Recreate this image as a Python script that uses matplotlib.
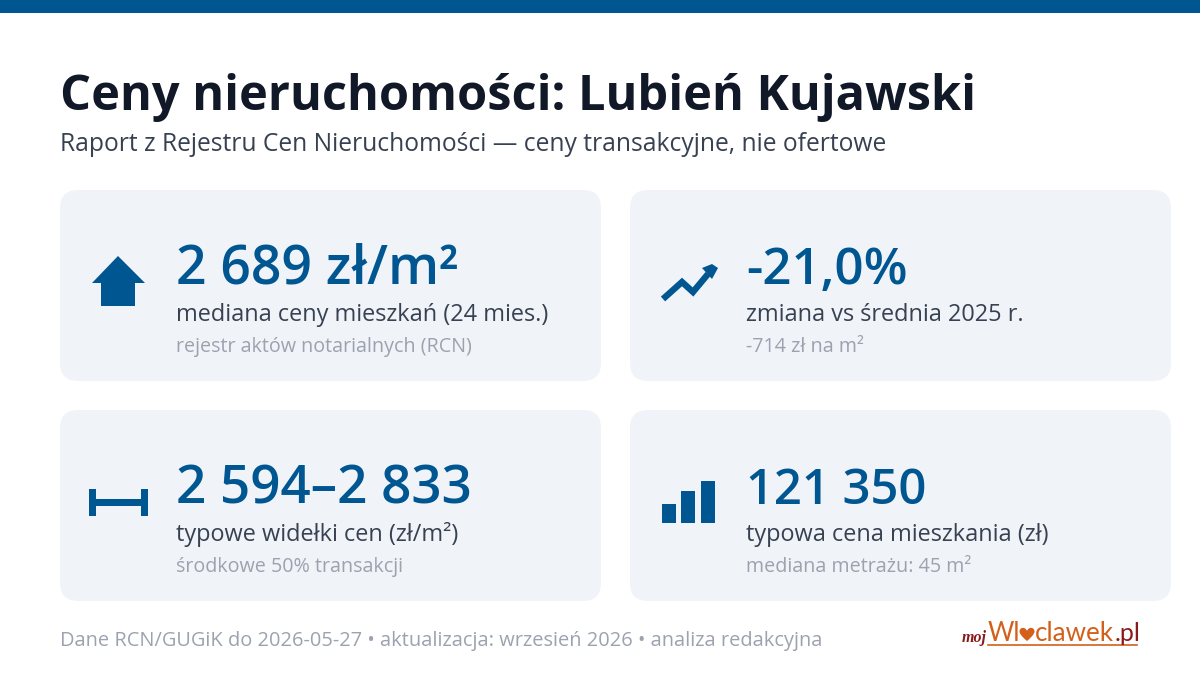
import matplotlib
matplotlib.use('Agg')
import matplotlib.pyplot as plt
from matplotlib.patches import FancyBboxPatch, PathPatch, Polygon, Rectangle
from matplotlib.path import Path

plt.rcParams['font.family'] = ['Open Sans', 'DejaVu Sans']

BLUE = '#005691'
DARK = '#111827'
MID = '#374151'
GREY = '#9CA3AF'
CARD = '#F0F4F9'
ORANGE = '#D2601A'
MAROON = '#8B1A1A'

title = 'Ceny nieruchomości: Lubień Kujawski'
subtitle = 'Raport z Rejestru Cen Nieruchomości — ceny transakcyjne, nie ofertowe'
footer = 'Dane RCN/GUGiK do 2026-05-27 • aktualizacja: wrzesień 2026 • analiza redakcyjna'

values = ['2 689 zł/m²', '-21,0%', '2 594–2 833', '121 350']
labels = ['mediana ceny mieszkań (24 mies.)', 'zmiana vs średnia 2025 r.',
          'typowe widełki cen (zł/m²)', 'typowa cena mieszkania (zł)']
notes = ['rejestr aktów notarialnych (RCN)', '-714 zł na m²',
         'środkowe 50% transakcji', 'mediana metrażu: 45 m²']

# card left/top corners, in pixels
card_x = [60, 630, 60, 630]
card_y = [190, 190, 410, 410]
text_x = [176, 746, 176, 746]
value_px = [53.5, 51, 53, 49]  # the original font has narrower digits in places


def px(size):
    return size * 0.72


fig = plt.figure(figsize=(12, 6.75), dpi=100, facecolor='white')
ax = fig.add_axes([0, 0, 1, 1])
ax.set_xlim(0, 1200)
ax.set_ylim(675, 0)
ax.axis('off')

ax.add_patch(Rectangle((0, 0), 1200, 13, color=BLUE, lw=0))

ax.text(60, 110, title, fontsize=px(48.7), fontweight='bold', color=DARK, va='baseline')
ax.text(60, 151, subtitle, fontsize=px(24.6), color=MID, va='baseline')

for i in range(4):
    ax.add_patch(FancyBboxPatch((card_x[i] + 18, card_y[i] + 18), 541 - 36, 191 - 36,
                                boxstyle='round,pad=18,rounding_size=18',
                                fc=CARD, ec='none'))
    ax.text(text_x[i], card_y[i] + 94, values[i], fontsize=px(value_px[i]), fontweight='semibold',
            color=BLUE, va='baseline')
    ax.text(text_x[i], card_y[i] + 131, labels[i], fontsize=px(23.45), color=MID, va='baseline')
    ax.text(text_x[i], card_y[i] + 162, notes[i], fontsize=px(19.8), color=GREY, va='baseline')

# house
ax.add_patch(Polygon([(118, 256), (145, 283), (135, 283), (135, 306), (101, 306),
                      (101, 283), (92, 283)], fc=BLUE, ec='none'))

# trend arrow
ax.plot([663, 682, 693, 708], [299, 282, 292, 274], color=BLUE, lw=4.6,
        solid_joinstyle='miter', solid_capstyle='butt')
ax.add_patch(Polygon([(702, 268), (712, 264), (718, 268), (712, 279)], fc=BLUE, ec='none'))

# range bracket
ax.add_patch(Rectangle((89, 489), 7, 27, fc=BLUE, ec='none'))
ax.add_patch(Rectangle((141, 489), 7, 27, fc=BLUE, ec='none'))
ax.add_patch(Rectangle((96, 499), 45, 7, fc=BLUE, ec='none'))

# bars icon
ax.add_patch(Rectangle((662, 504), 14, 19, fc=BLUE, ec='none'))
ax.add_patch(Rectangle((681, 491), 14, 32, fc=BLUE, ec='none'))
ax.add_patch(Rectangle((701, 481), 14, 42, fc=BLUE, ec='none'))

ax.text(60, 646, footer, fontsize=px(20.05), color=GREY, va='baseline')

# logo
ax.text(962, 642, 'moj', fontsize=px(16), color=MAROON, family='Liberation Serif',
        style='italic', fontweight='bold', va='baseline')
ax.text(988, 641, 'Wl', fontsize=px(25.5), color=ORANGE, family='Lato', va='baseline')
heart = Path([(1027, 641),
              (1021, 636), (1019.5, 633), (1019.5, 631.5),
              (1019.5, 627), (1025.5, 626.5), (1027, 631),
              (1028.5, 626.5), (1034.5, 627), (1034.5, 631.5),
              (1034.5, 633), (1033, 636), (1027, 641)],
             [Path.MOVETO] + [Path.CURVE4] * 12)
ax.add_patch(PathPatch(heart, fc=ORANGE, ec='none'))
ax.text(1035, 641, 'clawek', fontsize=px(26), color=ORANGE, family='Lato', va='baseline')
ax.text(1115, 641, '.pl', fontsize=px(25), color=MAROON, family='Lato', va='baseline')
ax.plot([988, 1137], [644.5, 644.5], color=ORANGE, lw=1.2)

fig.savefig('out.png', dpi=100, facecolor='white')
